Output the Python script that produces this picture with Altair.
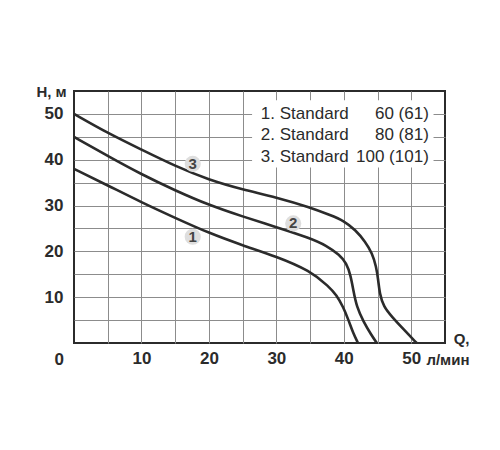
import altair as alt
import pandas as pd

# Curve 1: Standard 60 (61)
q1 = [0, 5, 10, 15, 20, 25, 30, 35, 37.8, 38.9, 39.9, 40.7, 41.4, 42.1]
h1 = [38, 34.4, 30.7, 27.3, 24.0, 21.3, 18.9, 15.8, 12.3, 10.5, 7.9, 5.0, 2.1, 0]
# Curve 2: Standard 80 (81)
q2 = [0, 5, 10, 15, 20, 25, 30, 35, 37.4, 39.4, 40.4, 41.0, 41.4, 41.9, 42.9, 44.1, 44.9]
h2 = [45, 40.8, 36.8, 33.3, 30.1, 27.6, 25.3, 22.9, 21.3, 19.2, 17.4, 14.8, 11.6, 7.9, 4.7, 1.7, 0]
# Curve 3: Standard 100 (101)
q3 = [0, 5, 10, 15, 20, 25, 30, 35, 38, 40, 41.7, 43.2, 44.2, 44.8, 45.1, 45.3, 45.9, 47.1, 48.9, 50.8]
h3 = [50, 45.8, 42.2, 38.6, 35.6, 33.5, 31.8, 29.6, 27.9, 26.7, 24.7, 22.1, 19.6, 16.7, 13.8, 10.9, 7.9, 5.8, 2.9, 0]

curve_ids = ["1", "2", "3"]
legend_left = ["1. Standard", "2. Standard", "3. Standard"]
legend_right = ["60 (61)", "80 (81)", "100 (101)"]
legend_rows_h = [50.0, 45.3, 40.6]
legend_left_q = 27.7
legend_right_q = 52.6
legend_box = {"Q": 26.4, "Q2": 53.3, "H": 38.3, "H2": 53.0}

badge_ids = ["3", "1", "2"]
badge_q = [17.6, 17.6, 32.5]
badge_h = [39.1, 23.2, 26.1]

grid_values = [5, 10, 15, 20, 25, 30, 35, 40, 45, 50]
origin_label = {"Q": -2.2, "H": -3.7, "t": "0"}

rows = []
for cid, qs, hs in zip(curve_ids, [q1, q2, q3], [h1, h2, h3]):
    for q, h in zip(qs, hs):
        rows.append({"curve": cid, "Q": q, "H": h})
curves = pd.DataFrame(rows)

legend_df = pd.DataFrame({
    "H": legend_rows_h,
    "left": legend_left,
    "right": legend_right,
    "Ql": [legend_left_q] * 3,
    "Qr": [legend_right_q] * 3,
})
box_df = pd.DataFrame([legend_box])
badge_df = pd.DataFrame({"Q": badge_q, "H": badge_h, "t": badge_ids})
origin_df = pd.DataFrame([origin_label])

FONT = "'Liberation Sans Narrow', 'Arial Narrow', 'Liberation Sans', Arial, sans-serif"
INK = "#2b2b2b"

x_axis = alt.Axis(
    values=grid_values,
    labelExpr="datum.value % 10 == 0 ? datum.label : ''",
    grid=True, gridColor="#8c8c8c", gridWidth=1,
    ticks=False, domain=False,
    labelFont=FONT, labelFontSize=17, labelFontWeight="bold", labelColor=INK,
    labelPadding=7, labelBaseline="top",
    title=["Q,", "л/мин"], titleFont=FONT, titleFontSize=15, titleFontWeight="bold",
    titleColor=INK, titleAngle=0, titleAlign="right", titleBaseline="middle",
    titleX=395, titleY=-5, titleLineHeight=21,
)
y_axis = alt.Axis(
    values=grid_values,
    labelExpr="datum.value % 10 == 0 ? datum.label : ''",
    grid=True, gridColor="#8c8c8c", gridWidth=1,
    ticks=False, domain=False,
    labelFont=FONT, labelFontSize=17, labelFontWeight="bold", labelColor=INK,
    labelPadding=11, labelBaseline="middle",
    title="Н, м", titleFont=FONT, titleFontSize=15, titleFontWeight="bold",
    titleColor=INK, titleAngle=0, titleAlign="center", titleBaseline="middle",
    titleX=-23, titleY=0,
)
xs = alt.Scale(domain=[0, 55], nice=False, zero=False)
ys = alt.Scale(domain=[0, 55], nice=False, zero=False)

box = alt.Chart(box_df).mark_rect(fill="white").encode(
    x=alt.X("Q:Q", scale=xs, axis=x_axis), x2="Q2:Q",
    y=alt.Y("H:Q", scale=ys, axis=y_axis), y2="H2:Q",
)

lines = alt.Chart(curves).mark_line(
    color=INK, strokeWidth=2.6, interpolate="basis"
).encode(
    x=alt.X("Q:Q", scale=xs, axis=x_axis),
    y=alt.Y("H:Q", scale=ys, axis=y_axis),
    detail="curve:N",
)

leg_left = alt.Chart(legend_df).mark_text(
    align="left", baseline="middle", font=FONT, fontSize=17, color=INK
).encode(x=alt.X("Ql:Q", scale=xs, axis=x_axis), y=alt.Y("H:Q", scale=ys, axis=y_axis), text="left:N")

leg_right = alt.Chart(legend_df).mark_text(
    align="right", baseline="middle", font=FONT, fontSize=17, color=INK
).encode(x=alt.X("Qr:Q", scale=xs, axis=x_axis), y=alt.Y("H:Q", scale=ys, axis=y_axis), text="right:N")

badges = alt.Chart(badge_df).mark_circle(size=260, color="#dedede", opacity=1).encode(
    x=alt.X("Q:Q", scale=xs, axis=x_axis), y=alt.Y("H:Q", scale=ys, axis=y_axis)
)
badge_text = alt.Chart(badge_df).mark_text(
    font=FONT, fontSize=15, fontWeight="bold", color="#444444", baseline="middle", align="center"
).encode(x=alt.X("Q:Q", scale=xs, axis=x_axis), y=alt.Y("H:Q", scale=ys, axis=y_axis), text="t:N")

origin = alt.Chart(origin_df).mark_text(
    font=FONT, fontSize=17, fontWeight="bold", color=INK, baseline="middle", align="center"
).encode(x=alt.X("Q:Q", scale=xs, axis=x_axis), y=alt.Y("H:Q", scale=ys, axis=y_axis), text="t:N")

chart = alt.layer(box, lines, badges, badge_text, leg_left, leg_right, origin).properties(
    width=371, height=252,
    autosize=alt.AutoSizeParams(type="none"),
    padding={"left": 66, "top": 83, "right": 40, "bottom": 80},
    background="white",
).configure_view(stroke=INK, strokeWidth=2)

chart.save("out.html", embed_options={"renderer": "svg", "actions": False})
